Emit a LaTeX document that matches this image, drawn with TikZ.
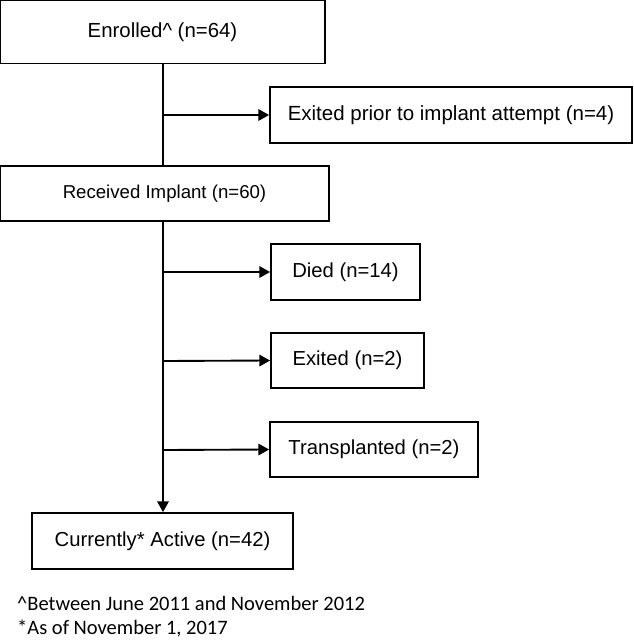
\documentclass[tikz,border=0pt]{standalone}
\usepackage{fontspec}
\setmainfont{Liberation Sans}
\newfontfamily\notefont{Carlito}
\usetikzlibrary{arrows.meta}

\begin{document}
\begin{tikzpicture}[x=0.03cm,y=-0.03cm,
        box/.style={draw,line width=1.5pt,inner sep=0pt,align=center,font=\fontsize{17.3}{20}\selectfont},
        link/.style={line width=1.6pt},
        arr/.style={line width=1.6pt,-{Triangle[length=3.2mm,width=3.4mm]}},
        note/.style={anchor=west,inner sep=0pt,font=\notefont\fontsize{17.5}{20}\selectfont}]
        \useasboundingbox (0,0) rectangle (633,642);
        \node[box,minimum width=9.75cm,minimum height=1.89cm,font=\fontsize{17.4}{20}\selectfont] (enrolled) at (162.5,32) {Enrolled\^{} (n=64)};
        \node[box,minimum width=10.86cm,minimum height=1.68cm,font=\fontsize{17.5}{20}\selectfont] (exitprior) at (451,115) {Exited prior to implant attempt (n=4)};
        \node[box,minimum width=9.87cm,minimum height=1.65cm,font=\fontsize{15.9}{18}\selectfont] (received) at (164.5,193.5) {Received Implant (n=60)};
        \node[box,minimum width=4.47cm,minimum height=1.68cm] (died) at (345.5,272) {Died (n=14)};
        \node[box,minimum width=4.59cm,minimum height=1.65cm] (exited) at (347.5,360.5) {Exited (n=2)};
        \node[box,minimum width=6.24cm,minimum height=1.65cm] (transpl) at (374,449.5) {Transplanted (n=2)};
        \node[box,minimum width=7.83cm,minimum height=1.68cm] (active) at (162.5,541) {Currently* Active (n=42)};
        % branch points on the spine
        \coordinate (b1) at (163,115);
        \coordinate (b2) at (163,272);
        \coordinate (b3) at (163,361);
        \coordinate (b4) at (163,450);
        \draw[link] (enrolled.south -| b1) -- (received.north -| b1);
        \draw[arr] (b1) -- (exitprior.west);
        \draw[arr] (received.south -| b2) -- (active.north -| b2);
        \draw[arr] (b2) -- (died.west);
        \draw[arr] (b3) -- (exited.west);
        \draw[arr] (b4) -- (transpl.west);
        \node[note] (note1) at (17,603) {\^{}Between June 2011 and November 2012};
        \node[note] (note2) at (17,629) {*As of November 1, 2017};
\end{tikzpicture}
\end{document}
